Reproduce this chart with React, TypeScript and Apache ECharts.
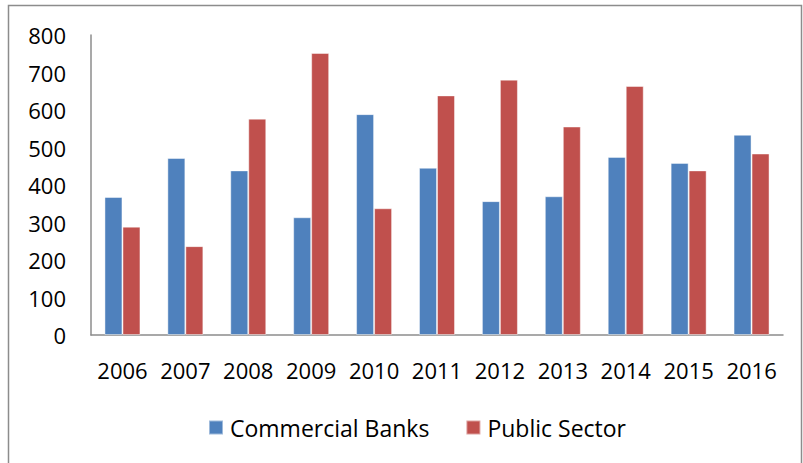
import React, { useEffect, useRef } from "react";
import * as echarts from "echarts";

const years = ["2006", "2007", "2008", "2009", "2010", "2011", "2012", "2013", "2014", "2015", "2016"];
const commercialBanks = [368, 472, 439, 314, 589, 446, 357, 370, 475, 459, 534];
const publicSector = [289, 237, 577, 752, 338, 639, 681, 556, 664, 439, 484];
const yTicks = { min: 0, max: 800, interval: 100 };

const FONT = "'Open Sans', 'DejaVu Sans', sans-serif";

export default function App() {
  const ref = useRef<HTMLDivElement>(null);
  useEffect(() => {
    document.body.style.margin = "0";
    const chart = echarts.init(ref.current!, null, { renderer: "svg" });
    chart.setOption({
      animation: false,
      backgroundColor: "#ffffff",
      textStyle: { fontFamily: FONT },
      grid: { left: 91, top: 35, right: 20, bottom: 128, containLabel: false },
      graphic: [
        {
          type: "rect",
          shape: { x: 8.5, y: 5.5, width: 793, height: 480 },
          style: { fill: "none", stroke: "#8c8c8c", lineWidth: 1.5 },
          silent: true,
        },
      ],
      legend: {
        data: ["Commercial Banks", "Public Sector"],
        left: 203,
        top: 411,
        itemWidth: 14,
        itemHeight: 14,
        itemGap: 36,
        icon: "rect",
        textStyle: { fontFamily: FONT, fontSize: 23, color: "#000", padding: [0, 0, 0, 2] },
      },
      xAxis: {
        type: "category",
        data: years,
        axisLine: { lineStyle: { color: "#8c8c8c", width: 1.5 } },
        axisTick: { show: false },
        axisLabel: { fontFamily: FONT, fontSize: 22, color: "#000", margin: 24, interval: 0 },
      },
      yAxis: {
        type: "value",
        min: yTicks.min,
        max: yTicks.max,
        interval: yTicks.interval,
        axisLine: { show: true, lineStyle: { color: "#8c8c8c", width: 1.5 } },
        axisTick: { show: false },
        splitLine: { show: false },
        axisLabel: { fontFamily: FONT, fontSize: 22, color: "#000", margin: 25 },
      },
      series: [
        {
          name: "Commercial Banks",
          type: "bar",
          data: commercialBanks,
          barWidth: 18,
          barGap: "0%",
          itemStyle: { color: "#4F81BD", borderColor: "rgba(255,255,255,0.45)", borderWidth: 1 },
        },
        {
          name: "Public Sector",
          type: "bar",
          data: publicSector,
          barWidth: 18,
          barGap: "0%",
          itemStyle: { color: "#C0504D", borderColor: "rgba(255,255,255,0.45)", borderWidth: 1 },
        },
      ],
    });
    return () => chart.dispose();
  }, []);
  return <div ref={ref} style={{ position: "absolute", left: 0, top: 0, width: 803, height: 463 }} />;
}
